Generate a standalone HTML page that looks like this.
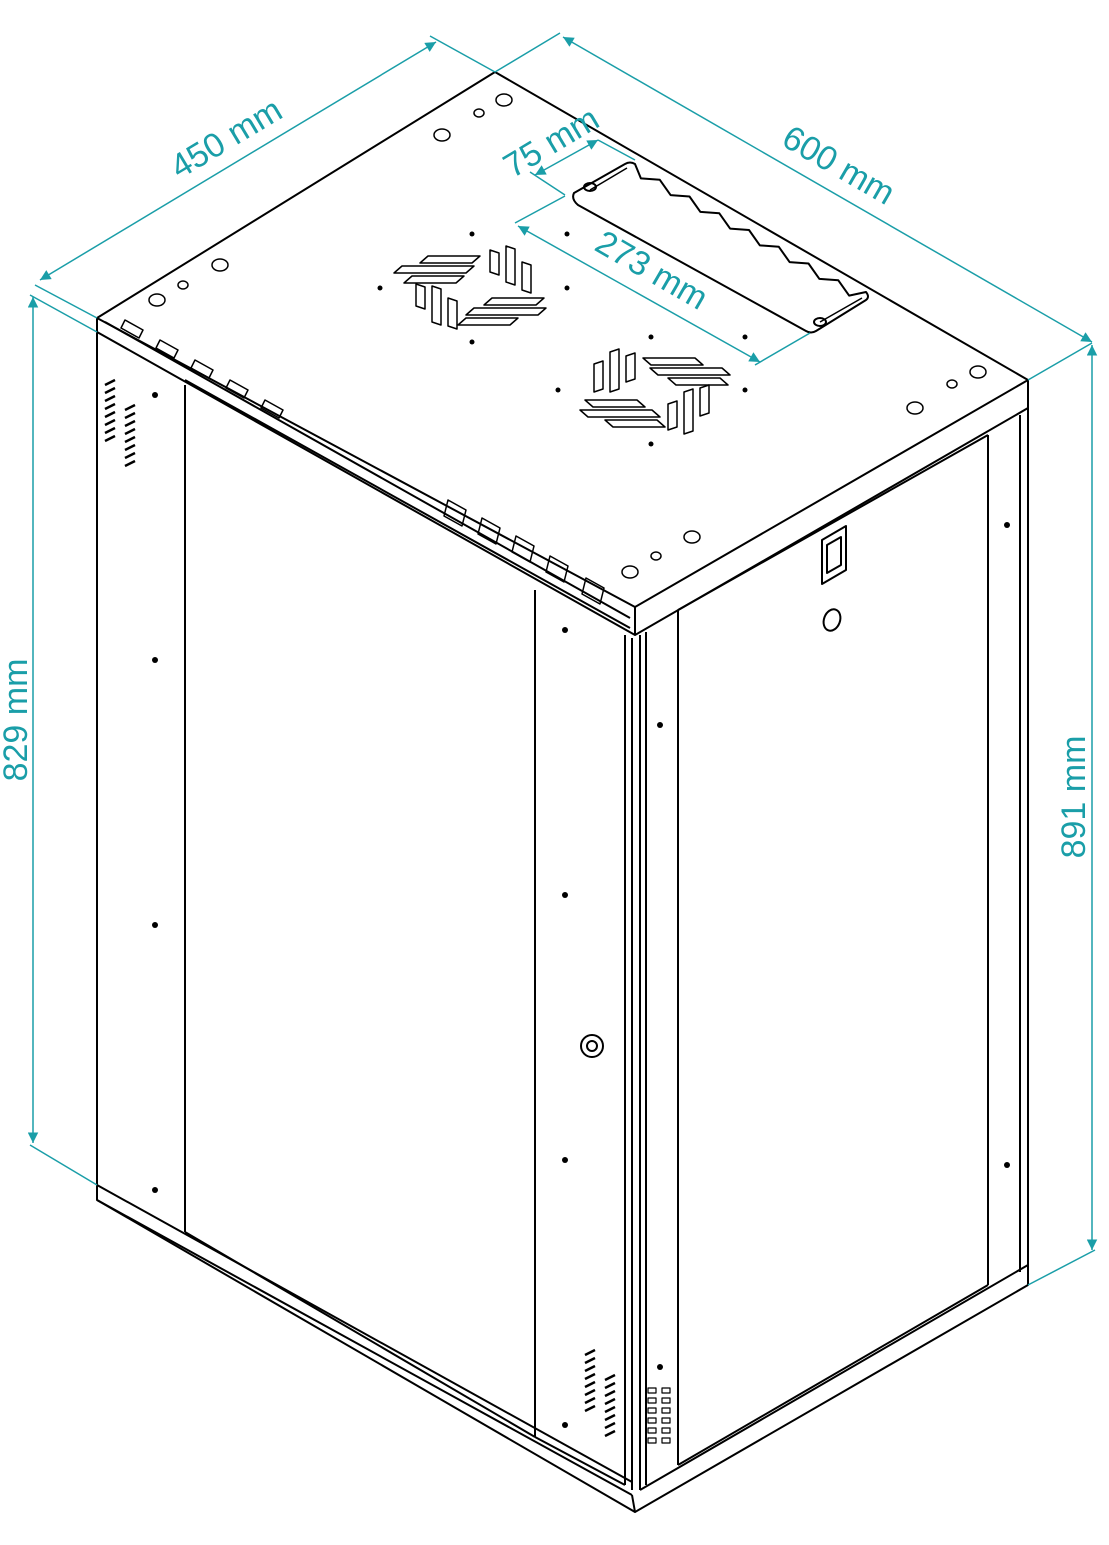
<!DOCTYPE html>
<html><head><meta charset="utf-8"><style>html,body{margin:0;padding:0;background:#fff}svg{display:block}</style></head>
<body>
<svg width="1109" height="1545" viewBox="0 0 1109 1545" xmlns="http://www.w3.org/2000/svg">
<defs>
<marker id="a" viewBox="0 0 10 10" refX="10" refY="5" markerWidth="9" markerHeight="7" orient="auto-start-reverse"><path d="M0,0L10,5L0,10z" fill="#1a9ea8"/></marker>
</defs>
<g stroke="#000" stroke-width="2" fill="none" stroke-linejoin="round">
<polygon points="97,318 495,72 1028,380 635,607" fill="#fff"/>
<path d="M97,318 L97,332 L635,635 L1028,408 L1028,380"/>
<path d="M635,607 L635,635"/>
<path d="M105,322 L630,618"/>
<path d="M185,380 L630,628"/>
<g stroke-width="1.5">
<path d="M125,320 l18,10 l-4,8 l-18,-10z M160,340 l18,10 l-4,8 l-18,-10z M195,360 l18,10 l-4,8 l-18,-10z M230,380 l18,10 l-4,8 l-18,-10z M265,400 l18,10 l-4,8 l-18,-10z"/>
<path d="M448,500 l18,10 l-4,16 l-18,-10z M482,518 l18,10 l-4,16 l-18,-10z M516,536 l18,10 l-4,16 l-18,-10z M550,556 l18,10 l-4,16 l-18,-10z M586,578 l18,10 l-4,16 l-18,-10z"/>
</g>
<g stroke-width="1.5">
<ellipse cx="157" cy="300" rx="8" ry="6"/><ellipse cx="220" cy="265" rx="8" ry="6"/>
<ellipse cx="442" cy="135" rx="8" ry="6"/><ellipse cx="504" cy="100" rx="8" ry="6"/>
<ellipse cx="915" cy="408" rx="8" ry="6"/><ellipse cx="978" cy="372" rx="8" ry="6"/>
<ellipse cx="692" cy="537" rx="8" ry="6"/><ellipse cx="630" cy="572" rx="8" ry="6"/>
<ellipse cx="183" cy="285" rx="5" ry="4"/><ellipse cx="479" cy="113" rx="5" ry="4"/>
<ellipse cx="952" cy="384" rx="5" ry="4"/><ellipse cx="656" cy="556" rx="5" ry="4"/>
</g>
<g fill="#000" stroke="none">
<circle cx="472" cy="234" r="2.5"/><circle cx="567" cy="234" r="2.5"/><circle cx="380" cy="288" r="2.5"/><circle cx="567" cy="288" r="2.5"/><circle cx="472" cy="342" r="2.5"/>
<circle cx="651" cy="337" r="2.5"/><circle cx="745" cy="337" r="2.5"/><circle cx="558" cy="390" r="2.5"/><circle cx="745" cy="390" r="2.5"/><circle cx="651" cy="444" r="2.5"/>
<circle cx="155" cy="395" r="3"/><circle cx="155" cy="660" r="3"/><circle cx="155" cy="925" r="3"/><circle cx="155" cy="1190" r="3"/>
<circle cx="565" cy="630" r="3"/><circle cx="565" cy="895" r="3"/><circle cx="565" cy="1160" r="3"/><circle cx="565" cy="1425" r="3"/>
<circle cx="660" cy="725" r="3"/><circle cx="660" cy="1367" r="3"/><circle cx="1007" cy="525" r="3"/><circle cx="1007" cy="1165" r="3"/>
</g>
<g stroke-width="1.5">
<path d="M428,256 l52,0 l-8,7 l-52,0z M402,266 l72,0 l-8,7 l-72,0z M412,276 l52,0 l-8,7 l-52,0z"/>
<path d="M490,250 l9,3 l0,22 l-9,-3z M506,246 l9,3 l0,36 l-9,-3z M522,262 l9,3 l0,28 l-9,-3z"/>
<path d="M416,284 l9,3 l0,22 l-9,-3z M432,286 l9,3 l0,36 l-9,-3z M448,298 l9,3 l0,28 l-9,-3z"/>
<path d="M492,298 l52,0 l-8,7 l-52,0z M474,308 l72,0 l-8,7 l-72,0z M466,318 l52,0 l-8,7 l-52,0z"/>
<path d="M594,364 l9,-3 l0,28 l-9,3z M610,352 l9,-3 l0,40 l-9,3z M626,356 l9,-3 l0,26 l-9,3z"/>
<path d="M643,358 l52,0 l8,7 l-52,0z M650,368 l72,0 l8,7 l-72,0z M668,378 l52,0 l8,7 l-52,0z"/>
<path d="M585,400 l52,0 l8,7 l-52,0z M580,410 l72,0 l8,7 l-72,0z M605,420 l52,0 l8,7 l-52,0z"/>
<path d="M668,404 l9,-3 l0,26 l-9,3z M684,392 l9,-3 l0,42 l-9,3z M700,388 l9,-3 l0,28 l-9,3z"/>
</g>
<!-- plate -->
<path d="M574,193 L625,164 Q630,161 635,164 L640.9,178.4 L659.8,179.8 L670.6,195.1 L689.5,196.5 L700.4,211.9 L719.3,213.3 L730.1,228.6 L749,230 L759.9,245.4 L778.8,246.8 L789.6,262.1 L808.5,263.5 L819.4,278.9 L838.3,280.3 L849.1,295.6 L866,292 Q870,297 866,300 L816,331 Q811,334 806,331 L578,205 Q571,199 574,193 Z" fill="#fff"/>
<path d="M590,190 L627,168 M820,322 L862,298" stroke-width="1.5"/>
<ellipse cx="590" cy="187" rx="6" ry="4"/><ellipse cx="820" cy="322" rx="6" ry="4"/>
<!-- front face -->
<path d="M97,332 L97,1185"/>
<path d="M185,385 L185,1232"/>
<path d="M535,590 L535,1437"/>
<path d="M625,635 L625,1485"/>
<path d="M632,638 L632,1490"/>
<path d="M97,1185 L97,1200 L632,1495"/>
<path d="M97,1185 L632,1482"/>
<path d="M185,1232 L535,1437"/>
<path d="M535,1437 L625,1485"/>
<path d="M632,1495 L635,1512 L1028,1285 L1028,1265 L640,1490"/>
<path d="M97,1200 L635,1512"/>
<path d="M640,635 L640,1490"/>
<path d="M1028,408 L1028,1265"/>
<path d="M678,610 L678,1465 M988,435 L988,1285"/>
<path d="M678,610 L988,435 M678,1465 L988,1285"/>
<path d="M1020,415 L1020,1272 M646,632 L646,1485"/>
<path d="M822,540 L846,526 L846,570 L822,584 Z M827,545 L841,537 L841,565 L827,573 Z"/>
<ellipse cx="832" cy="620" rx="8" ry="11" transform="rotate(20 832 620)"/>
<circle cx="592" cy="1046" r="11"/><circle cx="592" cy="1046" r="5"/>
<g stroke-width="2.5">
<path d="M105,385 l10,-5 M105,393 l10,-5 M105,401 l10,-5 M105,409 l10,-5 M105,417 l10,-5 M105,425 l10,-5 M105,433 l10,-5 M105,441 l10,-5"/>
<path d="M125,410 l10,-5 M125,418 l10,-5 M125,426 l10,-5 M125,434 l10,-5 M125,442 l10,-5 M125,450 l10,-5 M125,458 l10,-5 M125,466 l10,-5"/>
<path d="M585,1355 l10,-5 M585,1363 l10,-5 M585,1371 l10,-5 M585,1379 l10,-5 M585,1387 l10,-5 M585,1395 l10,-5 M585,1403 l10,-5 M585,1411 l10,-5"/>
<path d="M605,1380 l10,-5 M605,1388 l10,-5 M605,1396 l10,-5 M605,1404 l10,-5 M605,1412 l10,-5 M605,1420 l10,-5 M605,1428 l10,-5 M605,1436 l10,-5"/>
</g>
<g stroke-width="1.2">
<path d="M648,1388 h8v5h-8z M648,1398 h8v5h-8z M648,1408 h8v5h-8z M648,1418 h8v5h-8z M648,1428 h8v5h-8z M648,1438 h8v5h-8z"/>
<path d="M662,1388 h8v5h-8z M662,1398 h8v5h-8z M662,1408 h8v5h-8z M662,1418 h8v5h-8z M662,1428 h8v5h-8z M662,1438 h8v5h-8z"/>
</g>
</g>
<g stroke="#1a9ea8" stroke-width="1.5" fill="none">
<path d="M97,318 L35,285 M495,72 L430,36 M495,72 L560,33 M1028,380 L1092,343 M97,1185 L30,1145 M1028,1285 L1095,1250 M97,332 L30,295"/>
<path d="M40,280 L436,42" marker-start="url(#a)" marker-end="url(#a)"/>
<path d="M563,37 L1092,342" marker-start="url(#a)" marker-end="url(#a)"/>
<path d="M33,297 L33,1143" marker-start="url(#a)" marker-end="url(#a)"/>
<path d="M1092,345 L1092,1250" marker-start="url(#a)" marker-end="url(#a)"/>
<path d="M535,175 L598,140" marker-start="url(#a)" marker-end="url(#a)"/>
<path d="M518,226 L760,362" marker-start="url(#a)" marker-end="url(#a)"/>
<path d="M530,172 L565,195 M515,223 L565,196 M755,365 L810,333 M598,140 L635,160"/>
</g>
<g fill="#1a9ea8" font-family="Liberation Sans, sans-serif" font-size="34" text-anchor="middle">
<text transform="translate(232,148) rotate(-31)">450 mm</text>
<text transform="translate(833,175) rotate(30)">600 mm</text>
<text transform="translate(557,152) rotate(-31)">75 mm</text>
<text transform="translate(646,280) rotate(30)">273 mm</text>
<text transform="translate(27,720) rotate(-90)">829 mm</text>
<text transform="translate(1085,797) rotate(-90)">891 mm</text>
</g>
</svg>
</body></html>
